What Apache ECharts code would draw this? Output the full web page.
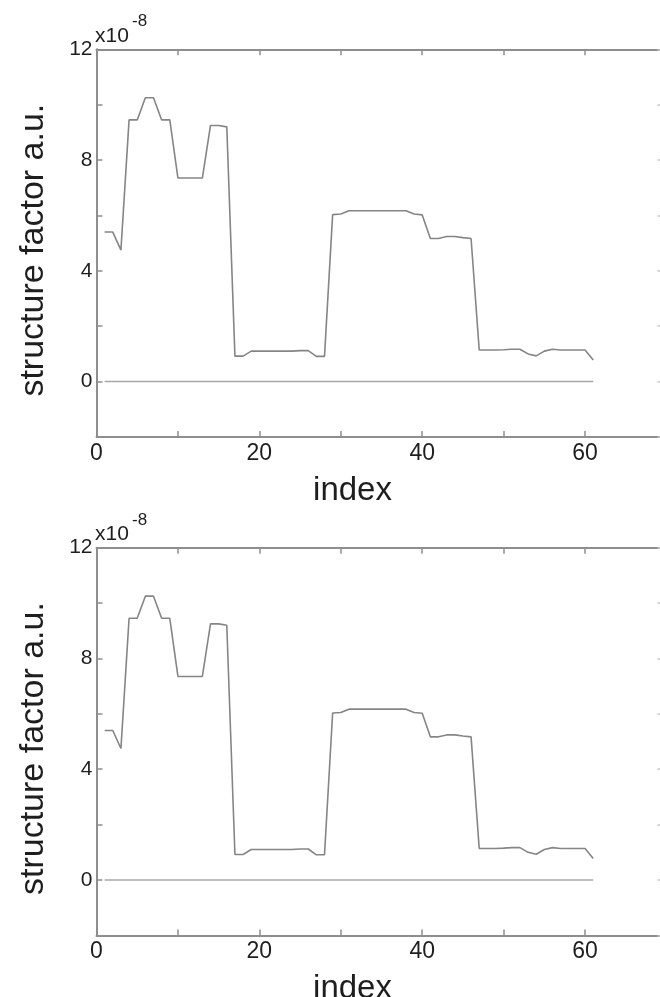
<!DOCTYPE html>
<html><head><meta charset="utf-8">
<script src="https://cdn.jsdelivr.net/npm/echarts@6/dist/echarts.min.js"></script>
<style>html,body{margin:0;padding:0;background:#fff}#c{width:660px;height:997px}</style>
</head><body><div id="c"></div>
<script>
// ---- data (structure factor in units of 1e-8) ----
const indices = [1,2,3,4,5,6,7,8,9,10,11,12,13,14,15,16,17,18,19,20,21,22,23,24,25,26,27,28,29,30,
  31,32,33,34,35,36,37,38,39,40,41,42,43,44,45,46,47,48,49,50,51,52,53,54,55,56,57,58,59,60,61];
const structureFactor = [5.4,5.4,4.75,9.45,9.45,10.25,10.25,9.45,9.45,7.35,7.35,7.35,7.35,9.25,9.25,9.2,
  0.92,0.92,1.1,1.1,1.1,1.1,1.1,1.1,1.12,1.12,0.91,0.91,6.03,6.05,6.17,6.17,6.17,6.17,6.17,6.17,6.17,6.17,
  6.05,6.02,5.17,5.17,5.24,5.24,5.2,5.17,1.14,1.14,1.14,1.15,1.17,1.17,1.0,0.93,1.1,1.17,1.14,1.14,1.14,1.14,0.78];
const baselineIdx = [1, 61];
const baselineVal = [0, 0];
const xTickLabels = [0, 20, 40, 60];
const yTickLabels = [0, 4, 8, 12];
const xName = 'index';
const yName = 'structure factor a.u.';
const scaleBase = 'x10';
const scaleExp = '-8';

// ---- layout / style ----
const FONT = 'Liberation Sans, Arial, Helvetica, sans-serif';
const AXIS = '#8e8e8e';
const TXT = '#1e1e1e';
const panels = [{top: 49.3}, {top: 547.7}];
const GL = 96.5, GW = 570, GH = 387.7;

const grids = [], xAxes = [], yAxes = [], series = [], graphics = [];
const lineData = indices.map((x, i) => [x, structureFactor[i]]);
const baseData = baselineIdx.map((x, i) => [x, baselineVal[i]]);

panels.forEach((p, k) => {
  grids.push({left: GL, top: p.top, width: GW, height: GH, containLabel: false, outerBoundsMode: 'none'});
  const tick = {show: true, inside: true, length: 6, lineStyle: {color: AXIS, width: 1.5}};
  const line = {show: true, onZero: false, lineStyle: {color: AXIS, width: 2}};
  xAxes.push({
    type: 'value', gridIndex: k, position: 'bottom', min: 0, max: 70, interval: 10,
    axisLine: line, axisTick: tick, splitLine: {show: false},
    axisLabel: {show: true, margin: 5, fontSize: 23, fontFamily: FONT, color: TXT,
      formatter: v => xTickLabels.indexOf(v) >= 0 ? String(v) : ''},
    name: xName, nameLocation: 'middle', nameGap: 37,
    nameTextStyle: {fontSize: 33, fontFamily: FONT, color: TXT, padding: [0, 58, 0, 0]}
  });
  xAxes.push({
    type: 'value', gridIndex: k, position: 'top', min: 0, max: 70, interval: 10,
    axisLine: line, axisTick: tick, axisLabel: {show: false}, splitLine: {show: false}
  });
  yAxes.push({
    type: 'value', gridIndex: k, position: 'left', min: -2, max: 12, interval: 2,
    axisLine: line, axisTick: tick, splitLine: {show: false},
    axisLabel: {show: true, margin: 4, fontSize: 21, fontFamily: FONT, color: TXT,
      formatter: v => yTickLabels.indexOf(v) >= 0 ? String(v) : ''},
    name: yName, nameLocation: 'middle', nameGap: 46,
    nameTextStyle: {fontSize: 34, fontFamily: FONT, color: TXT, padding: [0, 14, 0, 0]}
  });
  yAxes.push({
    type: 'value', gridIndex: k, position: 'right', min: -2, max: 12, interval: 2,
    axisLine: line, axisTick: {show: true, inside: true, length: 9, lineStyle: {color: '#c8c8c8', width: 1.5}},
    axisLabel: {show: false}, splitLine: {show: false}
  });
  series.push({
    type: 'line', xAxisIndex: 2 * k, yAxisIndex: 2 * k, data: baseData,
    showSymbol: false, silent: true, lineStyle: {color: '#a8a8a8', width: 1.5}, z: 2
  });
  series.push({
    type: 'line', xAxisIndex: 2 * k, yAxisIndex: 2 * k, data: lineData,
    showSymbol: false, silent: true, lineStyle: {color: '#858585', width: 1.6}, z: 3
  });
  graphics.push({type: 'text', x: 95, y: p.top - 24,
    style: {text: scaleBase, font: '21px ' + FONT, fill: TXT, verticalAlign: 'top'}});
  graphics.push({type: 'text', x: 132, y: p.top - 36,
    style: {text: scaleExp, font: '17px ' + FONT, fill: TXT, verticalAlign: 'top'}});
});

const chart = echarts.init(document.getElementById('c'), null, {renderer: 'canvas'});
chart.setOption({
  animation: false,
  backgroundColor: '#ffffff',
  grid: grids, xAxis: xAxes, yAxis: yAxes, series: series, graphic: graphics
});
</script>
</body></html>
